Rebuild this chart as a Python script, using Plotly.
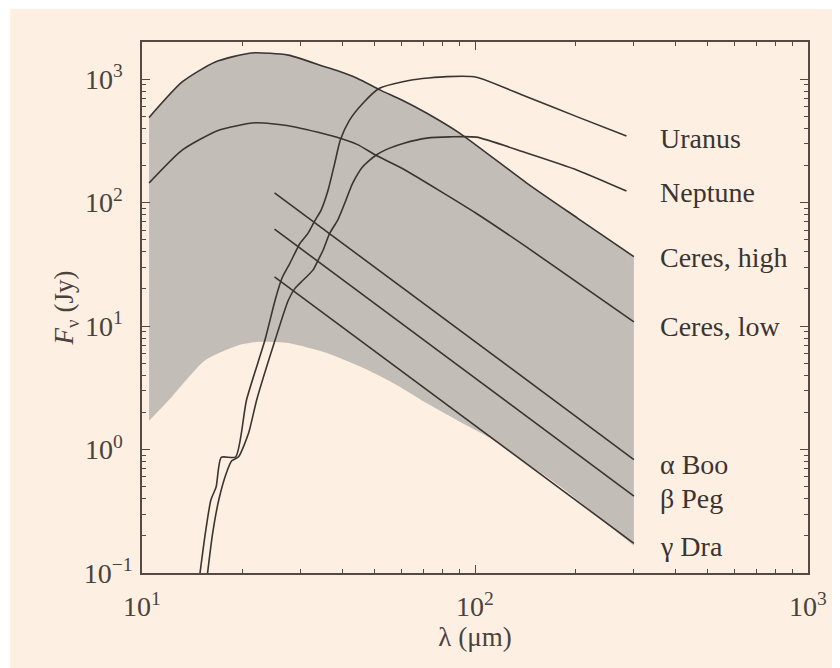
import plotly.graph_objects as go

# ---------------- data (wavelength in micron, flux density in Jy) ----------------
ceres_high_lam = [10.5, 13.2, 16.6, 21.3, 27.5, 35.4, 38.3, 44.4, 52.0, 60.5, 71.7, 89.9, 143, 203, 300]
ceres_high_f = [490, 950, 1380, 1630, 1565, 1260, 1180, 1013, 815, 676, 530, 366, 144, 75, 36.5]

ceres_low_lam = [10.5, 13.2, 17.0, 21.9, 27.5, 35.4, 38.3, 44.4, 50.4, 60.5, 101, 143, 300]
ceres_low_f = [144, 266, 386, 443, 420, 360, 340, 295, 242, 189, 81.7, 43.6, 10.8]

band_low_lam = [10.5, 12.3, 15.5, 19.5, 22.4, 27.5, 36.2, 45.4, 57.1, 71.7, 90.1, 114, 143, 181, 300]
band_low_f = [1.71, 2.68, 5.3, 7.0, 7.46, 7.28, 6.0, 4.68, 3.43, 2.37, 1.68, 1.19, 0.773, 0.497, 0.166]

uranus_lam = [14.9, 15.5, 16.1, 16.7, 17.3, 19.1, 20.6, 23.4, 25.1, 26.3, 27.8, 29.8, 31.5, 32.9,
              34.5, 36.2, 37.9, 39.4, 42.0, 46.0, 51.5, 63.9, 82.3, 101, 143, 203, 285]
uranus_f = [0.095, 0.211, 0.39, 0.50, 0.865, 0.87, 2.52, 7.7, 16.2, 24.3, 32.2, 46.7, 56.3, 69.9,
            87, 126, 208, 321, 466, 636, 841, 981, 1048, 1038, 719, 495, 346]

neptune_lam = [15.7, 16.3, 17.0, 17.9, 18.6, 19.5, 20.9, 22.1, 25.1, 27.5, 28.8, 30.5, 32.6, 33.8,
               35.0, 36.6, 38.7, 40.6, 42.9, 46.0, 50.4, 55.2, 61.2, 71.7, 84, 101, 143, 203, 285]
neptune_f = [0.095, 0.21, 0.39, 0.64, 0.81, 0.874, 1.36, 2.52, 7.7, 16.2, 20.2, 23.6, 28.4, 34.2,
             41.3, 56.3, 72.2, 98.5, 143, 195, 242, 275, 303, 333, 341, 339, 252, 183, 124]

star_lam = [25, 300]
alpha_boo_f = [120, 0.83]
beta_peg_f = [61, 0.42]
gamma_dra_f = [25, 0.174]

labels = ["Uranus", "Neptune", "Ceres, high", "Ceres, low", "α Boo", "β Peg", "γ Dra"]
label_ypos = [0.819, 0.7175, 0.595, 0.465, 0.2034, 0.141, 0.049]

x_tickvals = [10, 100, 1000]
x_ticktext = ["10<sup>1</sup>", "10<sup>2</sup>", "10<sup>3</sup>"]
y_tickvals = [0.1, 1, 10, 100, 1000]
PAD = "\u00a0\u00a0"  # keeps the "10" of every label on one left edge, as in the original
y_ticktext = ["10<sup>−1</sup>", "10<sup>0" + PAD + "</sup>", "10<sup>1" + PAD + "</sup>",
              "10<sup>2" + PAD + "</sup>", "10<sup>3" + PAD + "</sup>"]

# ---------------- styling ----------------
CREAM = "#fdf0e3"
GRAY = "#c3bdb7"
INK = "#3b3430"
AXIS = "#544a43"
TXT = "#4a423d"
FONT = "Liberation Serif, Times New Roman, serif"

fig = go.Figure()

# shaded band: lower edge (no line) then upper edge filled down to it
fig.add_trace(go.Scatter(x=band_low_lam, y=band_low_f, mode="lines",
                         line=dict(width=0, color=GRAY, shape="spline", smoothing=0.6),
                         hoverinfo="skip", showlegend=False))
fig.add_trace(go.Scatter(x=ceres_high_lam, y=ceres_high_f, mode="lines", fill="tonexty",
                         fillcolor=GRAY, line=dict(width=0, color=GRAY, shape="spline", smoothing=0.6),
                         hoverinfo="skip", showlegend=False))

for lam, f, name in [
    (ceres_high_lam, ceres_high_f, "Ceres, high"),
    (ceres_low_lam, ceres_low_f, "Ceres, low"),
    (uranus_lam, uranus_f, "Uranus"),
    (neptune_lam, neptune_f, "Neptune"),
    (star_lam, alpha_boo_f, "α Boo"),
    (star_lam, beta_peg_f, "β Peg"),
    (star_lam, gamma_dra_f, "γ Dra"),
]:
    fig.add_trace(go.Scatter(x=lam, y=f, mode="lines",
                             line=dict(color=INK, width=1.6, shape="spline", smoothing=0.6),
                             name=name, showlegend=False))

for txt, yp in zip(labels, label_ypos):
    fig.add_annotation(x=0.775, y=yp, xref="paper", yref="paper", text=txt,
                       showarrow=False, xanchor="left", yanchor="middle",
                       font=dict(family=FONT, size=28, color=INK))

# cream panel with thin white border around the figure
fig.add_shape(type="rect", xref="paper", yref="paper",
              x0=-0.198, x1=1.036, y0=-0.179, y1=1.062,
              fillcolor=CREAM, line=dict(width=0), layer="below")

minor_x = [k * 10 ** e for e in (1, 2) for k in range(2, 10)]
minor_y = [k * 10 ** e for e in (-1, 0, 1, 2, 3) for k in range(2, 10) if k * 10 ** e < 2000]

axis_common = dict(
    showline=True, linecolor=AXIS, linewidth=1.5, mirror="allticks",
    ticks="inside", ticklen=8, tickwidth=1.3, tickcolor=AXIS,
    showgrid=False, zeroline=False,
    tickfont=dict(family=FONT, size=28, color=TXT),
)

fig.update_xaxes(type="log", range=[1, 3], tickvals=x_tickvals, ticktext=x_ticktext,
                 minor=dict(tickvals=minor_x, ticks="inside", ticklen=4, tickcolor=AXIS, showgrid=False),
                 title=dict(text="λ (μm)", font=dict(family=FONT, size=27, color=TXT), standoff=0),
                 ticklabelstandoff=8,
                 **axis_common)
fig.update_yaxes(type="log", range=[-1, 3.301], tickvals=y_tickvals, ticktext=y_ticktext,
                 minor=dict(tickvals=minor_y, ticks="inside", ticklen=4, tickcolor=AXIS, showgrid=False),
                 title=dict(text="<i>F</i><sub>ν</sub> (Jy)", font=dict(family=FONT, size=27, color=TXT), standoff=2),
                 ticklabelstandoff=2,
                 **axis_common)

# page body adds an 8px offset, so the figure is 8px smaller and margins shifted
fig.update_layout(width=832, height=660,
                  margin=dict(l=134, r=32, t=34, b=95),
                  paper_bgcolor="white", plot_bgcolor=CREAM,
                  showlegend=False)

fig.write_html("out.html")
